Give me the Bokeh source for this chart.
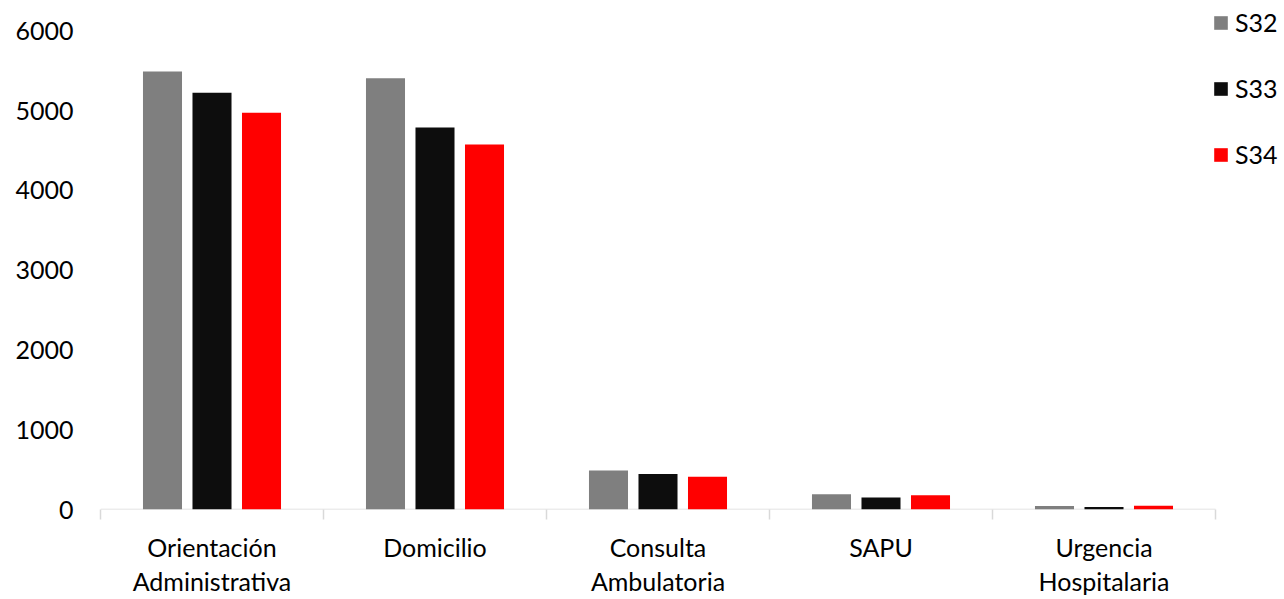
from bokeh.plotting import figure
from bokeh.models import Range1d, FixedTicker, Legend, LegendItem, ColumnDataSource
from bokeh.embed import file_html
from bokeh.resources import INLINE

categories = ["Orientación\nAdministrativa", "Domicilio", "Consulta\nAmbulatoria", "SAPU", "Urgencia\nHospitalaria"]
series_names = ["S32", "S33", "S34"]
s32 = [5490, 5405, 490, 190, 45]
s33 = [5225, 4790, 445, 150, 30]
s34 = [4975, 4575, 410, 178, 48]
y_ticks = [0, 1000, 2000, 3000, 4000, 5000, 6000]

colors = ["#7f7f7f", "#0d0d0d", "#ff0000"]
offsets = [-0.222, 0.0, 0.222]
FONT = "Lato"

n = len(categories)
# frame spans 100..1284 px; categories occupy 100..1215 px (223 px each)
x_end = n * (1284 - 100) / (1215 - 100)
y_end = 6000 * 511 / 480.5

p = figure(width=1284, height=599, output_backend="svg", toolbar_location=None,
           x_range=Range1d(0, x_end), y_range=Range1d(0, y_end))
p.min_border_left = 100
p.min_border_top = 0
p.min_border_right = 0
p.min_border_bottom = 88
p.outline_line_color = None
p.xgrid.visible = False
p.ygrid.visible = False

# baseline of the category axis (only across the categories)
p.segment(x0=[0], x1=[n], y0=[0], y1=[0], line_color="#d9d9d9", line_width=1.5)

renderers = []
for vals, c, off in zip([s32, s33, s34], colors, offsets):
    src = ColumnDataSource(dict(x=[i + 0.5 + off for i in range(n)], top=vals))
    r = p.vbar(x="x", top="top", width=0.175, bottom=0, source=src, fill_color=c, line_color=None)
    renderers.append(r)

# y axis
p.yaxis.ticker = FixedTicker(ticks=y_ticks)
p.yaxis.axis_line_color = None
p.yaxis.major_tick_line_color = None
p.yaxis.minor_tick_line_color = None
p.yaxis.major_tick_out = 0
p.yaxis.major_tick_in = 0
p.yaxis.major_label_standoff = 27
p.yaxis.major_label_text_font = FONT
p.yaxis.major_label_text_font_size = "25px"
p.yaxis.major_label_text_color = "#000000"

# x axis
p.xaxis.ticker = FixedTicker(ticks=[i + 0.5 for i in range(n)],
                             minor_ticks=list(range(n + 1)))
p.xaxis.major_label_overrides = {i + 0.5: categories[i] for i in range(n)}
p.xaxis.axis_line_color = None
p.xaxis.major_tick_line_color = None
p.xaxis.major_tick_out = 0
p.xaxis.major_tick_in = 0
p.xaxis.minor_tick_line_color = "#d9d9d9"
p.xaxis.minor_tick_line_width = 1.5
p.xaxis.minor_tick_out = 10
p.xaxis.minor_tick_in = 0
p.xaxis.major_label_standoff = 12
p.xaxis.major_label_text_font = FONT
p.xaxis.major_label_text_font_size = "25px"
p.xaxis.major_label_text_color = "#000000"
p.xaxis.major_label_text_line_height = 1.15

legend = Legend(items=[LegendItem(label=s, renderers=[r]) for s, r in zip(series_names, renderers)],
                location=(1112, 340), orientation="vertical",
                margin=0, padding=0, spacing=36,
                glyph_width=17, glyph_height=17, label_standoff=6, label_height=20,
                label_text_font=FONT, label_text_font_size="25px", label_text_color="#000000",
                border_line_color=None, background_fill_alpha=0)
p.add_layout(legend, "center")

open("out.html", "w").write(file_html(p, INLINE))
